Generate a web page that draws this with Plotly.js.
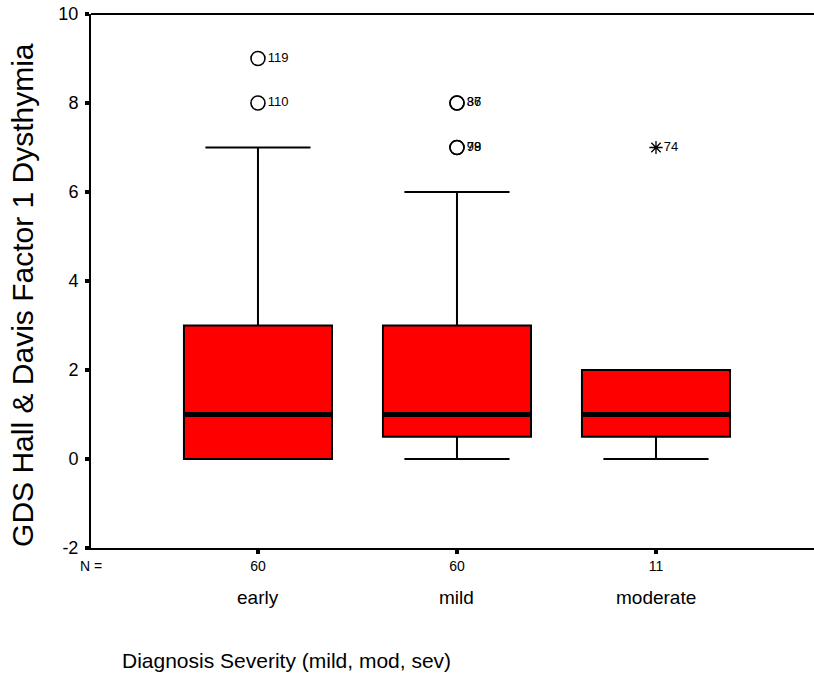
<!DOCTYPE html>
<html>
<head>
<meta charset="utf-8">
<script src="https://cdn.plot.ly/plotly-3.0.1.min.js"></script>
<style>html,body{margin:0;padding:0;background:#fff;}#chart{width:814px;height:678px;}</style>
</head>
<body>
<div id="chart"></div>
<script>
const categories = ["early", "mild", "moderate"];
const nCounts = ["60", "60", "11"];
const q1 = [0, 0.5, 0.5];
const median = [1, 1, 1];
const q3 = [3, 3, 2];
const lowerWhisker = [0, 0, 0];
const upperWhisker = [7, 6, 2];
// outliers (circles) and extremes (asterisks)
const outlierCat = [0, 0, 1, 1, 1, 1];
const outlierVal = [9, 8, 8, 8, 7, 7];
const outlierLabel = ["119", "110", "86", "37", "99", "78"];
const extremeCat = [2];
const extremeVal = [7];
const extremeLabel = ["74"];
const yTicks = [-2, 0, 2, 4, 6, 8, 10];
const yTickText = ["-2", "0", "2", "4", "6", "8", "10"];

const xPos = categories.map((c, i) => i);
const boxWidth = 0.744;
const FONT = "Liberation Sans, Arial, sans-serif";

const traces = [];
traces.push({
  type: "box",
  x: xPos,
  q1: q1, median: median, q3: q3,
  lowerfence: lowerWhisker, upperfence: upperWhisker,
  width: boxWidth,
  whiskerwidth: 0.71,
  fillcolor: "#ff0000",
  line: {color: "#000", width: 2},
  boxpoints: false,
  hoverinfo: "skip",
  showlegend: false
});
// thick median lines
xPos.forEach((x, i) => {
  traces.push({
    type: "scatter", mode: "lines",
    x: [x - boxWidth / 2, x + boxWidth / 2],
    y: [median[i], median[i]],
    line: {color: "#000", width: 5},
    hoverinfo: "skip", showlegend: false
  });
});
traces.push({
  type: "scatter", mode: "markers+text",
  x: outlierCat, y: outlierVal, text: outlierLabel,
  textposition: "middle right",
  textfont: {family: FONT, size: 13, color: "#000"},
  marker: {symbol: "circle-open", size: 14, color: "#000", line: {width: 1.6, color: "#000"}},
  cliponaxis: false, hoverinfo: "skip", showlegend: false
});
traces.push({
  type: "scatter", mode: "markers+text",
  x: extremeCat, y: extremeVal, text: extremeLabel,
  textposition: "middle right",
  textfont: {family: FONT, size: 13, color: "#000"},
  marker: {symbol: "asterisk-open", size: 11, color: "#000", line: {width: 1.3, color: "#000"}},
  cliponaxis: false, hoverinfo: "skip", showlegend: false
});

const annotations = categories.map((c, i) => ({
  x: xPos[i], xref: "x", y: -0.0936, yref: "paper",
  text: c, showarrow: false, xanchor: "center", yanchor: "middle",
  font: {family: FONT, size: 19, color: "#000"}
}));
annotations.push({
  x: 0, xref: "paper", y: -0.0337, yref: "paper", text: "N =", showarrow: false,
  xanchor: "center", yanchor: "middle", font: {family: FONT, size: 14, color: "#000"}
});
annotations.push({
  x: 0.04, xref: "paper", y: -0.2116, yref: "paper",
  text: "Diagnosis Severity (mild, mod, sev)", showarrow: false,
  xanchor: "left", yanchor: "middle", font: {family: FONT, size: 21, color: "#000"}
});
annotations.push({
  x: -0.094, xref: "paper", y: 0.474, yref: "paper",
  text: "GDS Hall &amp; Davis Factor 1 Dysthymia", showarrow: false, textangle: -90,
  xanchor: "center", yanchor: "middle", font: {family: FONT, size: 30, color: "#000"}
});

const layout = {
  width: 814, height: 678,
  margin: {l: 91, r: 0, t: 14, b: 130},
  paper_bgcolor: "#fff", plot_bgcolor: "#fff",
  showlegend: false,
  xaxis: {
    range: [-0.839, 2.794],
    tickmode: "array", tickvals: xPos, ticktext: nCounts,
    ticks: "outside", ticklen: 4, tickwidth: 4, tickcolor: "#000",
    showline: true, linewidth: 2, linecolor: "#000",
    showgrid: false, zeroline: false,
    tickfont: {family: FONT, size: 14, color: "#000"}
  },
  yaxis: {
    range: [-2, 10],
    tickmode: "array", tickvals: yTicks, ticktext: yTickText,
    ticks: "outside", ticklen: 4, tickwidth: 4, tickcolor: "#000",
    ticklabelstandoff: 3,
    showline: true, linewidth: 2, linecolor: "#000",
    showgrid: false, zeroline: false,
    tickfont: {family: FONT, size: 18, color: "#000"}
  },
  shapes: [{
    type: "line", xref: "paper", yref: "paper", x0: 0, x1: 1, y0: 1, y1: 1,
    line: {color: "#000", width: 2}
  }],
  annotations: annotations
};

Plotly.newPlot("chart", traces, layout, {staticPlot: true, displayModeBar: false});
</script>
</body>
</html>
